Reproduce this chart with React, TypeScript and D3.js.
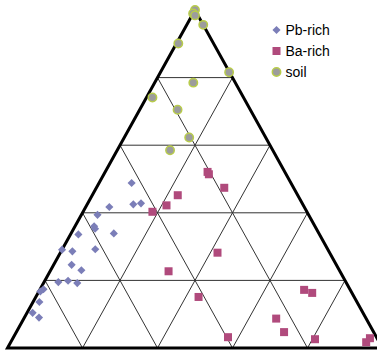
import React from "react";
import * as d3 from "d3";

// Ternary compositions in percent: [top, left, right]
const pbRich: [number, number, number][] = [
  [48.8, 42.5, 8.7], [42.5, 45.2, 12.3], [42.8, 43.0, 14.2], [41.7, 52.0, 6.3],
  [39.4, 56.3, 4.3], [36.0, 58.9, 5.1], [35.3, 59.0, 5.7], [33.6, 64.3, 2.1],
  [33.9, 54.7, 11.4], [29.1, 70.9, 0.0], [28.6, 68.4, 3.0], [29.2, 62.0, 8.8],
  [24.6, 70.6, 4.8], [23.0, 68.8, 8.2], [19.5, 76.7, 3.8], [19.9, 73.9, 6.2],
  [19.2, 71.8, 9.0], [17.4, 81.7, 0.9], [16.7, 82.9, 0.4], [13.6, 84.7, 1.7],
  [10.4, 88.1, 1.5], [9.0, 87.1, 3.9],
];

const baRich: [number, number, number][] = [
  [52.1, 20.6, 27.3], [51.4, 20.6, 28.0], [47.4, 18.5, 34.1], [45.2, 32.0, 22.8],
  [42.2, 36.5, 21.3], [40.3, 41.2, 18.5], [28.2, 29.9, 41.9], [22.7, 45.7, 31.6],
  [15.1, 41.5, 43.4], [3.2, 39.6, 57.2], [17.2, 12.3, 70.5], [16.3, 10.6, 73.1],
  [8.7, 24.0, 67.3], [4.7, 23.9, 71.4], [2.6, 16.7, 80.7], [1.7, 3.5, 94.8],
  [2.9, 1.9, 95.2],
];

const soil: [number, number, number][] = [
  [100, 0, 0], [99.0, 1.0, 0], [98.4, 0.8, 0.8], [95.6, 0, 4.4],
  [90.1, 9.4, 0.5], [81.6, 0.1, 18.3], [78.5, 11.2, 10.3], [74.1, 24.3, 1.6],
  [70.5, 19.4, 10.1], [62.3, 20.4, 17.3], [58.5, 27.4, 14.1],
];

const gridSteps = [20, 40, 60, 80];
const legendLabels = ["Pb-rich", "Ba-rich", "soil"];

const W = 377;
const H = 354;

export default function App() {
  const yScale = d3.scaleLinear().domain([0, 100]).range([348, 10]);
  const xScale = d3.scaleLinear().domain([0, 100]).range([7.5, 382.5]);

  const proj = (p: [number, number, number]): [number, number] => {
    const s = p[0] + p[1] + p[2];
    const a = (p[0] / s) * 100;
    const c = (p[2] / s) * 100;
    return [xScale(c + a / 2), yScale(a)];
  };

  const gridLines: [[number, number], [number, number]][] = [];
  gridSteps.forEach((t) => {
    gridLines.push([proj([t, 100 - t, 0]), proj([t, 0, 100 - t])]);
    gridLines.push([proj([100 - t, t, 0]), proj([0, t, 100 - t])]);
    gridLines.push([proj([100 - t, 0, t]), proj([0, 100 - t, t])]);
  });

  const outline = [proj([100, 0, 0]), proj([0, 100, 0]), proj([0, 0, 100])];
  const line = d3.line();

  const diamond = d3.symbol().type(d3.symbolDiamond2).size(42)() as string;

  const pbColor = "#7b7eb8";
  const baColor = "#b04a7c";
  const soilFill = "#9c9c9c";
  const soilStroke = "#b8cc4a";

  return (
    <svg
      width={W}
      height={H}
      style={{ position: "absolute", left: 0, top: 0, background: "#fff" }}
      fontFamily="'Liberation Sans', Arial, sans-serif"
    >
      <g>
        {gridLines.map((l, i) => (
          <path key={i} d={line(l) as string} stroke="#333" strokeWidth={1} fill="none" />
        ))}
        <path d={(line(outline) as string) + "Z"} stroke="#000" strokeWidth={3} fill="none" strokeLinejoin="miter" />
      </g>
      <g>
        {soil.map((p, i) => {
          const [x, y] = proj(p);
          return <circle key={i} cx={x} cy={y} r={4.2} fill={soilFill} stroke={soilStroke} strokeWidth={1.5} />;
        })}
        {baRich.map((p, i) => {
          const [x, y] = proj(p);
          return <rect key={i} x={x - 4} y={y - 4} width={8} height={8} fill={baColor} />;
        })}
        {pbRich.map((p, i) => {
          const [x, y] = proj(p);
          return <path key={i} d={diamond} transform={`translate(${x},${y})`} fill={pbColor} />;
        })}
      </g>
      <g>
        {legendLabels.map((lab, i) => {
          const y = 30 + i * 21;
          const x = 276.5;
          return (
            <g key={lab}>
              {i === 0 && <path d={diamond} transform={`translate(${x},${y})`} fill={pbColor} />}
              {i === 1 && <rect x={x - 4} y={y - 4} width={8} height={8} fill={baColor} />}
              {i === 2 && <circle cx={x} cy={y} r={4.2} fill={soilFill} stroke={soilStroke} strokeWidth={1.5} />}
              <text x={285.5} y={y} dy="0.35em" fontSize={14} fill="#000">
                {lab}
              </text>
            </g>
          );
        })}
      </g>
    </svg>
  );
}
